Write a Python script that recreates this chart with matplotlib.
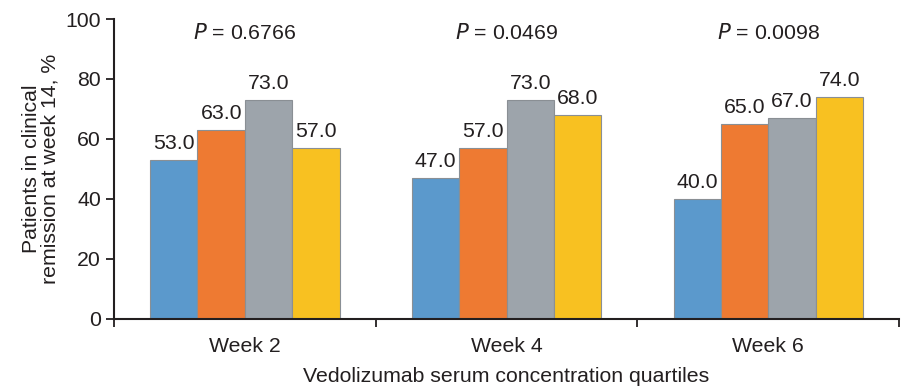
import matplotlib
matplotlib.use("Agg")
import matplotlib.pyplot as plt
import numpy as np

plt.rcParams['font.family'] = ['Liberation Sans', 'DejaVu Sans']

weeks = ["Week 2", "Week 4", "Week 6"]
q1 = [53.0, 47.0, 40.0]
q2 = [63.0, 57.0, 65.0]
q3 = [73.0, 73.0, 67.0]
q4 = [57.0, 68.0, 74.0]
p_values = ["0.6766", "0.0469", "0.0098"]
series = [q1, q2, q3, q4]
colors = ["#5B99CC", "#EE7A32", "#9DA4AB", "#F8C121"]

FS = 15.3
TC = "#231F20"

fig = plt.figure(figsize=(9.01, 3.88), dpi=100)
ax = fig.add_axes([0.1265, 0.178, 0.8715, 0.773])

n = len(series)
bw = 0.181
centers = np.arange(len(weeks)) + 0.5
for i, (vals, c) in enumerate(zip(series, colors)):
    x = centers + (i - (n - 1) / 2) * bw
    ax.bar(x, vals, width=bw, color=c, edgecolor="#8A8F94", linewidth=0.8, zorder=2)
    for xi, v in zip(x, vals):
        ax.annotate(f"{v:.1f}", (xi, v), xytext=(0, 5), textcoords="offset points",
                    ha="center", va="bottom", fontsize=FS, color=TC)

for c, p in zip(centers, p_values):
    ax.text(c, 95.5, r"$\it{P}$" + f" = {p}", ha="center", va="center",
            fontsize=FS, color=TC)

ax.set_xlim(0, len(weeks))
ax.set_ylim(0, 100)
ax.set_xticks(np.arange(len(weeks) + 1))
ax.set_xticklabels([])
ax.set_xticks(centers, minor=True)
ax.set_xticklabels(weeks, minor=True)
ax.tick_params(axis="x", which="minor", length=0, pad=13, labelsize=FS, labelcolor=TC)
ax.tick_params(axis="x", which="major", length=6, width=1.3, direction="out", color=TC)
ax.set_yticks([0, 20, 40, 60, 80, 100])
ax.tick_params(axis="y", length=6, width=1.3, direction="out", labelsize=FS, color=TC, labelcolor=TC)

for s in ["top", "right"]:
    ax.spines[s].set_visible(False)
for s in ["left", "bottom"]:
    ax.spines[s].set_linewidth(1.5)
    ax.spines[s].set_color(TC)

ax.set_ylabel("Patients in clinical\nremission at week 14, %", fontsize=FS, color=TC, labelpad=4,
              linespacing=1.0)
ax.set_xlabel("Vedolizumab serum concentration quartiles", fontsize=FS, color=TC, labelpad=8)

fig.savefig("out.png", dpi=100)
